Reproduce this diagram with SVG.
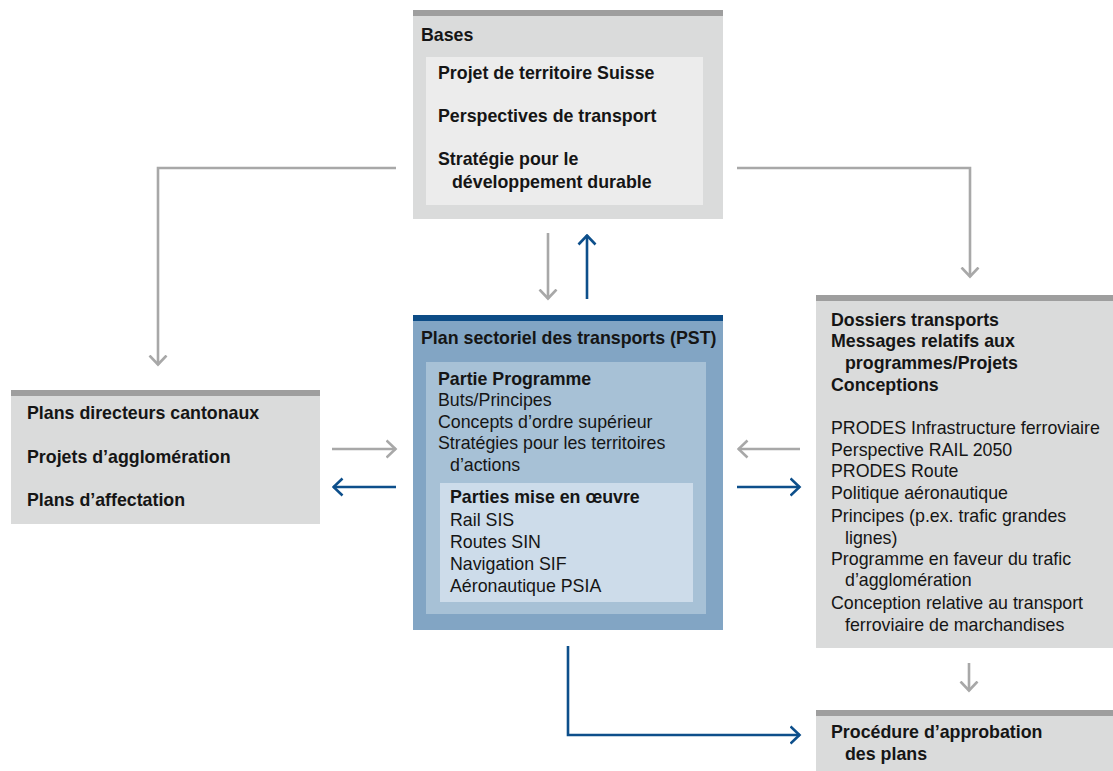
<svg xmlns="http://www.w3.org/2000/svg" width="1113" height="771" viewBox="0 0 1113 771">
<style>
text{font-family:"Liberation Sans",Arial,sans-serif;fill:#151515;font-size:17.8px}
.b{font-weight:bold;font-size:17.8px}
.gbox{fill:#dadbdb}
.gbar{fill:#9e9e9e}
.gin{fill:#ececec}
.bbox{fill:#82a5c4}
.bbar{fill:#0d4c86}
.bin1{fill:#a7c1d6}
.bin2{fill:#cddcea}
.g{stroke:#a8a8a8;stroke-width:2.6;fill:none;marker-end:url(#ag)}
.bl{stroke:#0d4f8b;stroke-width:2.6;fill:none;marker-end:url(#ab)}
</style>
<defs>
<marker id="ag" viewBox="0 0 12 20" refX="10.5" refY="10" markerWidth="12" markerHeight="20" markerUnits="userSpaceOnUse" orient="auto">
<path d="M1,1.5 L10,10 L1,18.5" fill="none" stroke="#a8a8a8" stroke-width="2.6"/>
</marker>
<marker id="ab" viewBox="0 0 12 20" refX="10.5" refY="10" markerWidth="12" markerHeight="20" markerUnits="userSpaceOnUse" orient="auto">
<path d="M1,1.5 L10,10 L1,18.5" fill="none" stroke="#0d4f8b" stroke-width="2.6"/>
</marker>
</defs>
<rect width="1113" height="771" fill="#ffffff"/>

<g id="bases">
<rect class="gbox" x="413" y="10" width="310" height="209"/>
<rect class="gbar" x="413" y="10" width="310" height="6"/>
<rect class="gin" x="426" y="57" width="277" height="148"/>
<text class="b" x="421" y="41">Bases</text>
<text class="b" x="438" y="79">Projet de territoire Suisse</text>
<text class="b" x="438" y="122">Perspectives de transport</text>
<text class="b" x="438" y="165">Stratégie pour le</text>
<text class="b" x="452" y="188">développement durable</text>
</g>

<g id="pst">
<rect class="bbox" x="413" y="315" width="310" height="315"/>
<rect class="bbar" x="413" y="315" width="310" height="6"/>
<rect class="bin1" x="426" y="362" width="280" height="252"/>
<rect class="bin2" x="440" y="483" width="253" height="119"/>
<text class="b" x="421" y="344">Plan sectoriel des transports (PST)</text>
<text class="b" x="438" y="385">Partie Programme</text>
<text x="438" y="406">Buts/Principes</text>
<text x="438" y="428">Concepts d’ordre supérieur</text>
<text x="438" y="449">Stratégies pour les territoires</text>
<text x="450" y="471">d’actions</text>
<text class="b" x="450" y="503">Parties mise en œuvre</text>
<text x="450" y="526">Rail SIS</text>
<text x="450" y="548">Routes SIN</text>
<text x="450" y="570">Navigation SIF</text>
<text x="450" y="592">Aéronautique PSIA</text>
</g>

<g id="cantons">
<rect class="gbox" x="11" y="390" width="309" height="134"/>
<rect class="gbar" x="11" y="390" width="309" height="6"/>
<text class="b" x="27" y="419">Plans directeurs cantonaux</text>
<text class="b" x="27" y="463">Projets d’agglomération</text>
<text class="b" x="27" y="506">Plans d’affectation</text>
</g>

<g id="dossiers">
<rect class="gbox" x="816" y="295" width="297" height="353"/>
<rect class="gbar" x="816" y="295" width="297" height="6"/>
<text class="b" x="831" y="326">Dossiers transports</text>
<text class="b" x="831" y="347">Messages relatifs aux</text>
<text class="b" x="845" y="369">programmes/Projets</text>
<text class="b" x="831" y="391">Conceptions</text>
<text x="831" y="434">PRODES Infrastructure ferroviaire</text>
<text x="831" y="456">Perspective RAIL 2050</text>
<text x="831" y="477">PRODES Route</text>
<text x="831" y="499">Politique aéronautique</text>
<text x="831" y="522">Principes (p.ex. trafic grandes</text>
<text x="845" y="544">lignes)</text>
<text x="831" y="565">Programme en faveur du trafic</text>
<text x="845" y="586">d’agglomération</text>
<text x="831" y="609">Conception relative au transport</text>
<text x="845" y="631">ferroviaire de marchandises</text>
</g>

<g id="approbation">
<rect class="gbox" x="816" y="710" width="297" height="61"/>
<rect class="gbar" x="816" y="710" width="297" height="6"/>
<text class="b" x="831" y="738">Procédure d’approbation</text>
<text class="b" x="845" y="760">des plans</text>
</g>

<g id="connectors">
<path class="g" d="M396,168 H158 V365"/>
<path class="g" d="M737,168 H970 V277"/>
<path class="g" d="M548,233 V299"/>
<path class="bl" d="M587,299 V235"/>
<path class="g" d="M332,449 H396"/>
<path class="bl" d="M396,487 H333"/>
<path class="g" d="M800,449 H738"/>
<path class="bl" d="M737,487 H800"/>
<path class="g" d="M969,663 V691"/>
<path class="bl" d="M568,646 V735 H800"/>
</g>
</svg>
